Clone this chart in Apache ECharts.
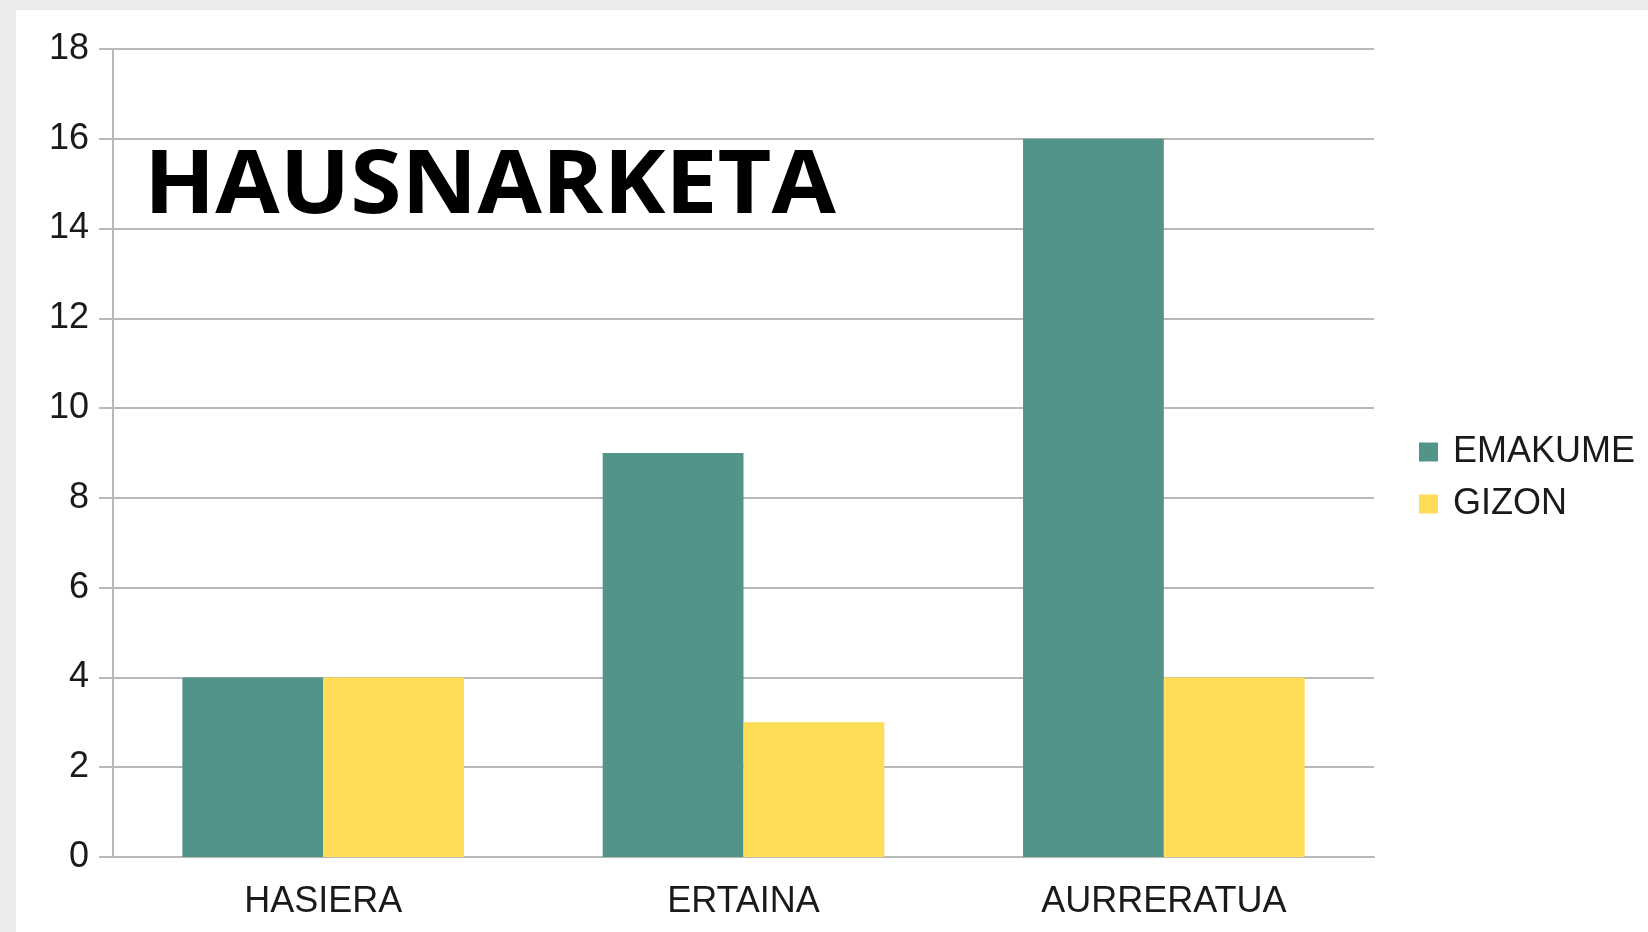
<!DOCTYPE html>
<html lang="eu" style="height: 100%">
<head>
  <meta charset="utf-8">
</head>
<body style="height: 100%; margin: 0">
  <div id="container" style="height: 100%"></div>

  <script type="text/javascript" src="https://fastly.jsdelivr.net/npm/echarts@6/dist/echarts.min.js"></script>
  <script type="text/javascript">
    var categories = ['HASIERA', 'ERTAINA', 'AURRERATUA'];
    var emakume = [4, 9, 16];
    var gizon = [4, 3, 4];
    var yTicks = { min: 0, max: 18, interval: 2 };

    var dom = document.getElementById('container');
    var myChart = echarts.init(dom, null, { renderer: 'canvas' });

    var lineColor = '#b8b8b8';
    var labelFont = { fontFamily: 'Liberation Sans', fontSize: 36, color: '#1a1a1a' };

    var option = {
      backgroundColor: '#ebebeb',
      animation: false,
      graphic: [
        {
          type: 'rect',
          z: -10,
          silent: true,
          shape: { x: 16, y: 10, width: 1648, height: 940 },
          style: { fill: '#ffffff' }
        },
        {
          // title is a little stretched sideways in the original
          type: 'text',
          x: 144,
          y: 144,
          scaleX: 1.06,
          z: 10,
          style: {
            text: 'HAUSNARKETA',
            x: 0,
            y: 0,
            verticalAlign: 'top',
            fill: '#000',
            font: 'bold 88px "Open Sans"'
          }
        }
      ],
      legend: {
        orient: 'vertical',
        left: 1414,
        top: 429,
        itemWidth: 19,
        itemHeight: 19,
        itemGap: 16,
        icon: 'rect',
        textStyle: { fontFamily: 'Liberation Sans', fontSize: 36, color: '#1a1a1a', padding: [0, 0, 0, 10] },
        data: ['EMAKUME', 'GIZON']
      },
      grid: { left: 113, right: 274, top: 49, bottom: 75 },
      xAxis: {
        type: 'category',
        data: categories,
        axisLine: { lineStyle: { color: lineColor, width: 2 } },
        axisTick: { length: 13, lineStyle: { color: lineColor, width: 2 } },
        axisLabel: Object.assign({ margin: 27 }, labelFont)
      },
      yAxis: {
        type: 'value',
        min: yTicks.min,
        max: yTicks.max,
        interval: yTicks.interval,
        axisLine: { show: true, lineStyle: { color: lineColor, width: 2 } },
        axisTick: { show: true, length: 14, lineStyle: { color: lineColor, width: 2 } },
        splitLine: { lineStyle: { color: lineColor, width: 2 } },
        axisLabel: Object.assign({ margin: 24 }, labelFont)
      },
      series: [
        {
          name: 'EMAKUME',
          type: 'bar',
          data: emakume,
          barGap: '0%',
          barCategoryGap: '33%',
          itemStyle: { color: '#52938a' }
        },
        {
          name: 'GIZON',
          type: 'bar',
          data: gizon,
          itemStyle: { color: '#ffdd57' }
        }
      ]
    };

    myChart.setOption(option);
    window.addEventListener('resize', myChart.resize);
  </script>
</body>
</html>
